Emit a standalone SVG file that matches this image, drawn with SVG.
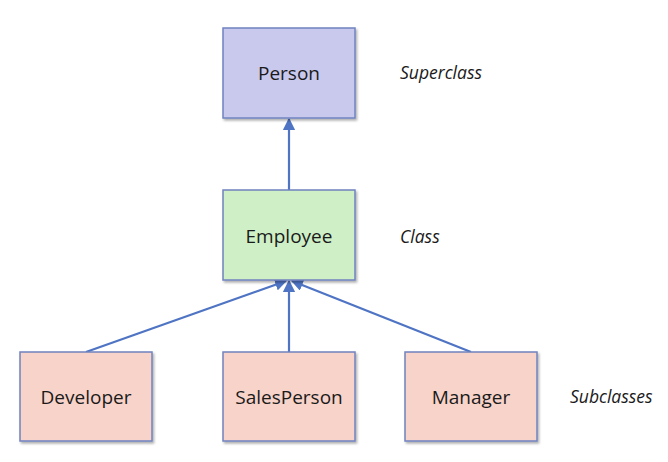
<svg xmlns="http://www.w3.org/2000/svg" width="668" height="462" viewBox="0 0 668 462">
<style>
.box{stroke:#6f83bf;stroke-width:1.5}
.t{font-family:"Open Sans","Liberation Sans",sans-serif;font-size:19px;font-weight:500;fill:#1a1a1a;text-anchor:middle}
.l{font-family:"Open Sans","Liberation Sans",sans-serif;font-size:17.5px;font-weight:500;font-style:italic;fill:#1a1a1a}
.c{stroke:#4f74c4;stroke-width:2.2;fill:none}
</style>
<defs>
<marker id="ah" viewBox="0 0 10 10" refX="9" refY="5" markerWidth="5.5" markerHeight="5.5" orient="auto">
<path d="M0,0 L10,5 L0,10 z" fill="#4f74c4"/>
</marker>
<filter id="sh" x="-10%" y="-10%" width="125%" height="125%">
<feDropShadow dx="1.5" dy="2" stdDeviation="1.2" flood-color="#000" flood-opacity="0.3"/>
</filter>
</defs>
<rect width="668" height="462" fill="#ffffff"/>
<g id="connectors">
<line class="c" x1="289" y1="190" x2="289" y2="119" marker-end="url(#ah)"/>
<line class="c" x1="86" y1="352" x2="286" y2="281" marker-end="url(#ah)"/>
<line class="c" x1="289" y1="352" x2="289" y2="281" marker-end="url(#ah)"/>
<line class="c" x1="471" y1="352" x2="292" y2="281" marker-end="url(#ah)"/>
</g>
<g id="person">
<rect class="box" x="223" y="28" width="132" height="90" fill="#c9c9ee" filter="url(#sh)"/>
<text class="t" x="289" y="80">Person</text>
</g>
<g id="employee">
<rect class="box" x="223" y="190" width="132" height="90" fill="#cfefc6" filter="url(#sh)"/>
<text class="t" x="289" y="243">Employee</text>
</g>
<g id="developer">
<rect class="box" x="20" y="352" width="132" height="89" fill="#f8d3c9" filter="url(#sh)"/>
<text class="t" x="86" y="404">Developer</text>
</g>
<g id="salesperson">
<rect class="box" x="223" y="352" width="132" height="89" fill="#f8d3c9" filter="url(#sh)"/>
<text class="t" x="289" y="404">SalesPerson</text>
</g>
<g id="manager">
<rect class="box" x="405" y="352" width="132" height="89" fill="#f8d3c9" filter="url(#sh)"/>
<text class="t" x="471" y="404">Manager</text>
</g>
<g id="labels">
<text class="l" x="400" y="79">Superclass</text>
<text class="l" x="400" y="243">Class</text>
<text class="l" x="570" y="403">Subclasses</text>
</g>
</svg>
